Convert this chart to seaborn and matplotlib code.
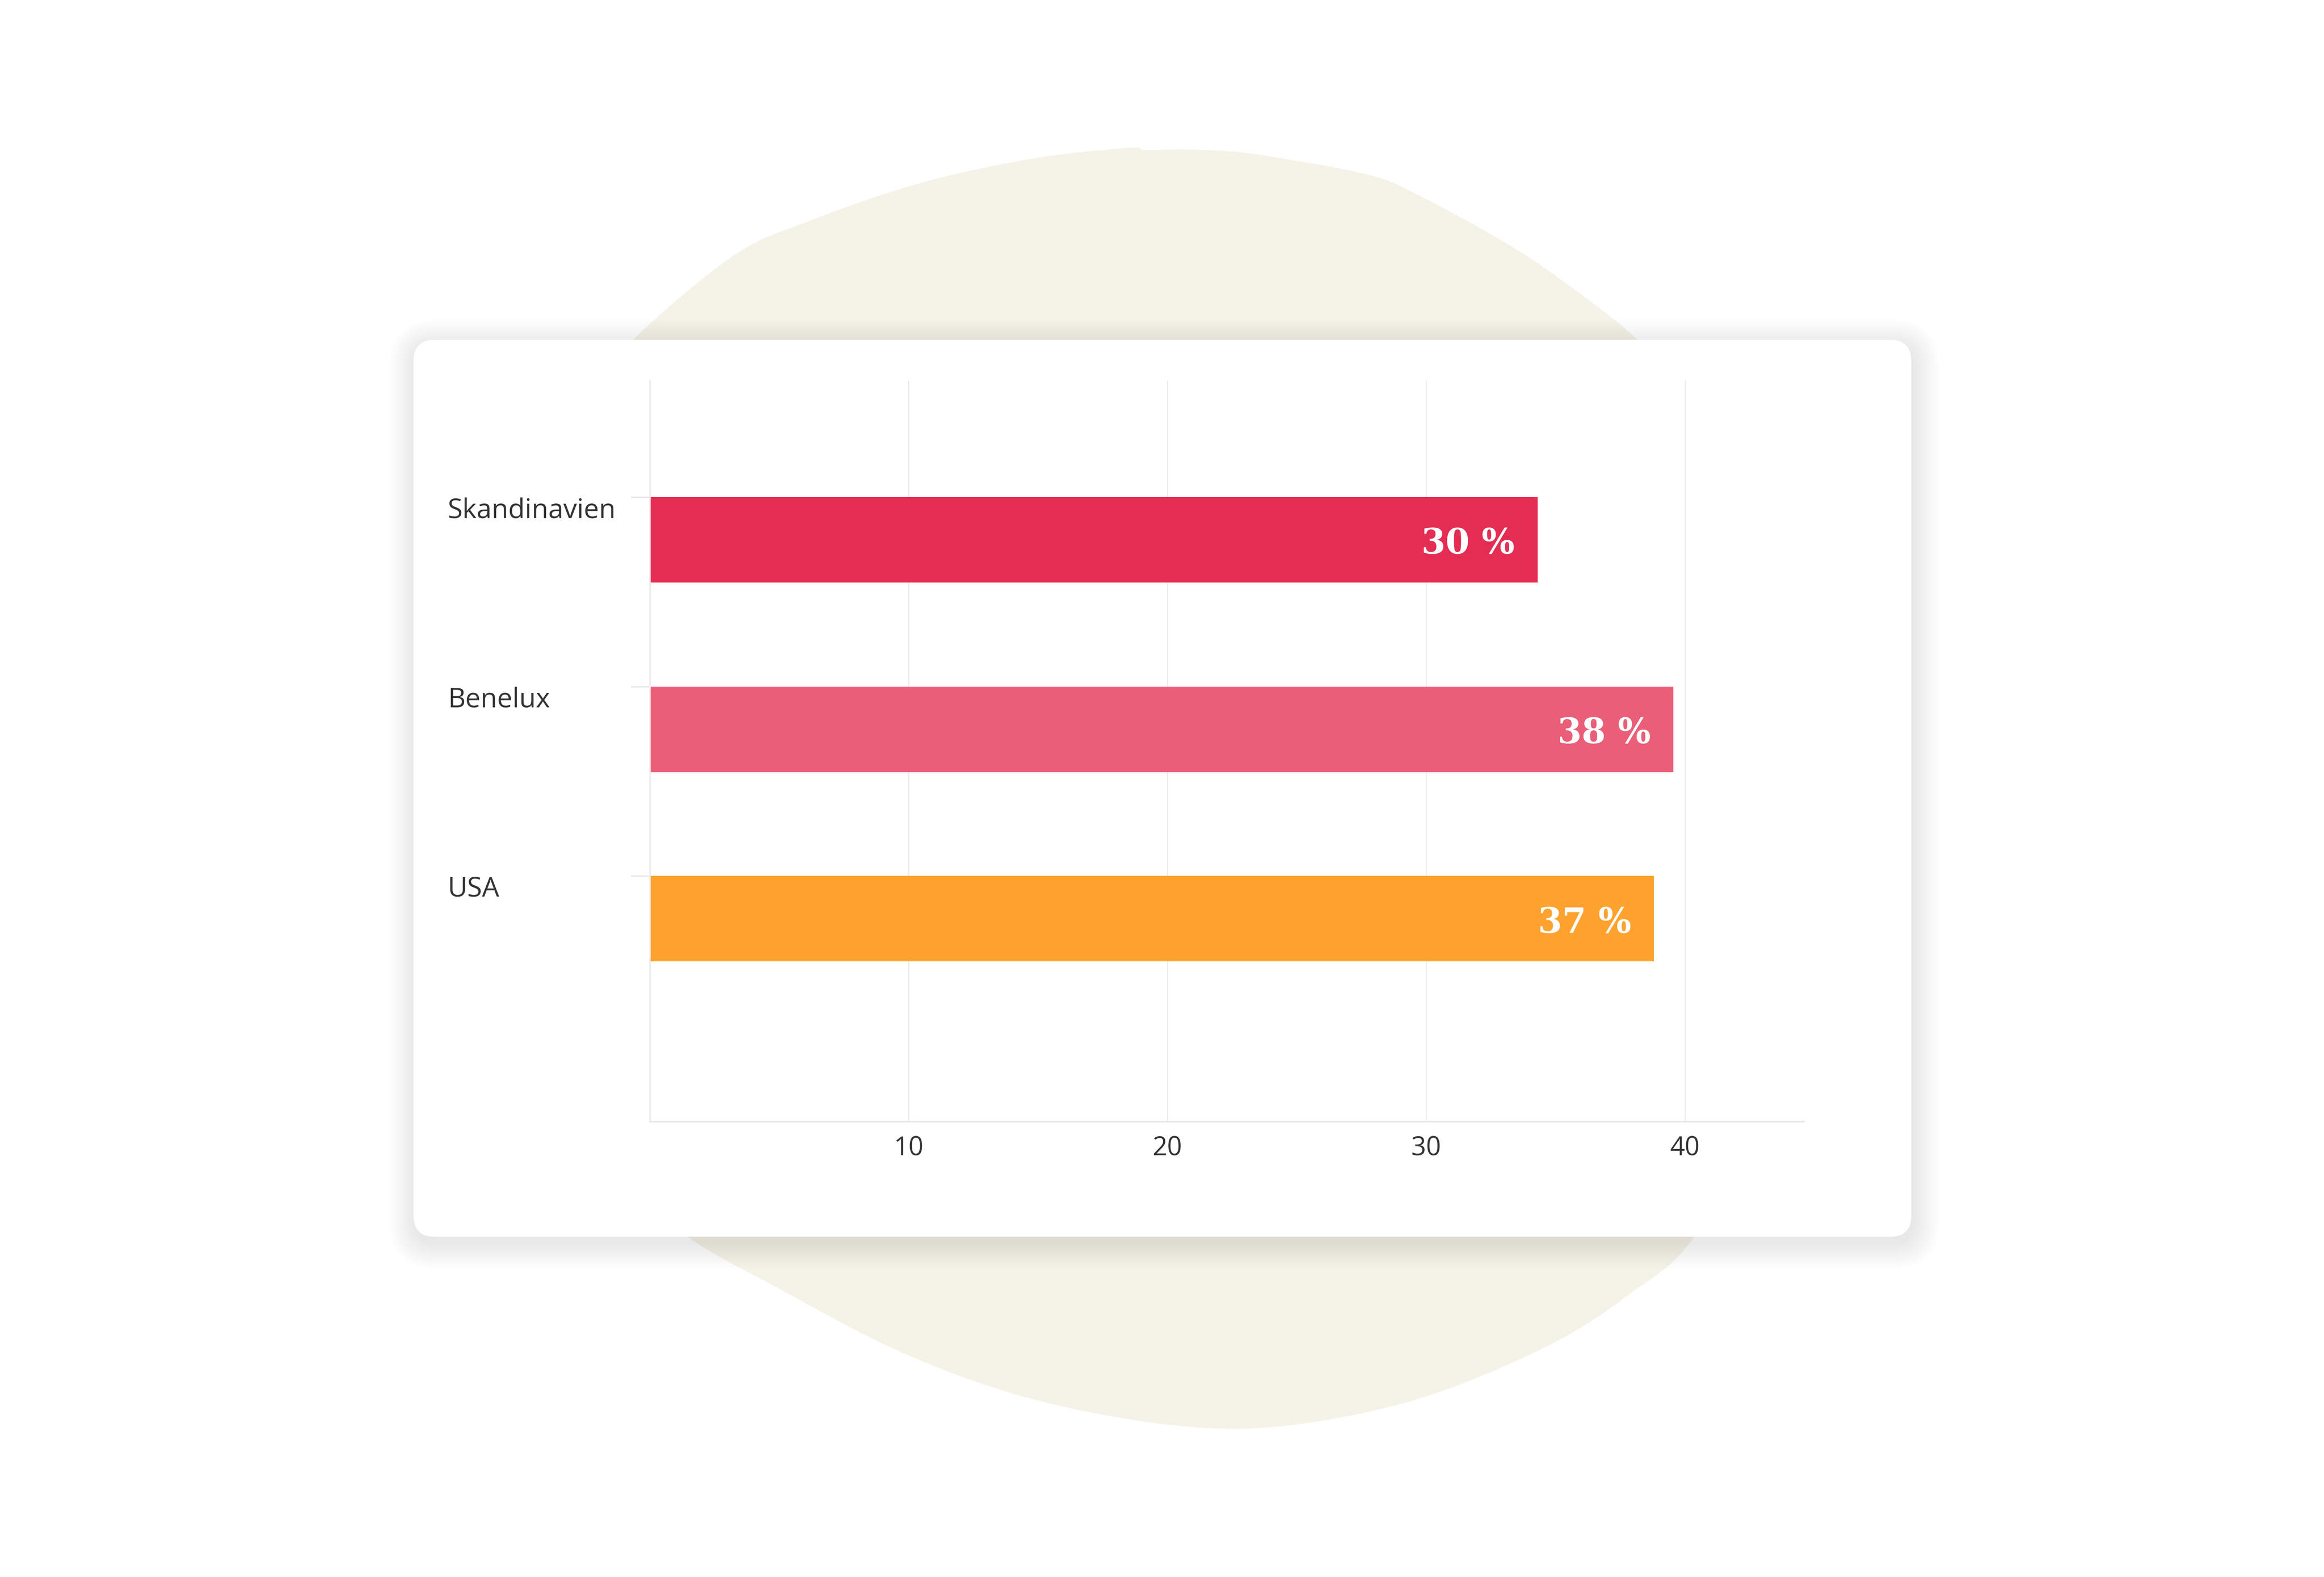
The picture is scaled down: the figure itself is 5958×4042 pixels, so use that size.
import numpy as np
import pandas as pd
import matplotlib
matplotlib.use("Agg")
import matplotlib.pyplot as plt
from matplotlib.patches import FancyBboxPatch, Polygon
import seaborn as sns

# chart data
regions = ["Skandinavien", "Benelux", "USA"]
bar_lengths = [34.3, 39.55, 38.8]
value_labels = ["30 %", "38 %", "37 %"]
bar_colors = ["#E52C52", "#EB5E78", "#FEA22E"]
x_ticks = [10, 20, 30, 40]

W, H = 5958, 4042
sns.set_theme(style="white")
plt.rcParams["font.family"] = ["Open Sans", "DejaVu Sans"]

fig = plt.figure(figsize=(W / 100, H / 100), dpi=100)
fig.patch.set_facecolor("white")

# background layer, in pixel units
bg = fig.add_axes([0, 0, 1, 1])
bg.set_xlim(0, W)
bg.set_ylim(H, 0)
bg.axis("off")


def smooth_closed(pts, n=40):
    # closed catmull-rom curve through the outline points
    pts = np.asarray(pts, float)
    m = len(pts)
    t = np.linspace(0, 1, n, endpoint=False)[:, None]
    out = []
    for i in range(m):
        p0, p1, p2, p3 = pts[i - 1], pts[i], pts[(i + 1) % m], pts[(i + 2) % m]
        out.append(0.5 * (2 * p1 + (-p0 + p2) * t
                          + (2 * p0 - 5 * p1 + 4 * p2 - p3) * t ** 2
                          + (-p0 + 3 * p1 - 3 * p2 + p3) * t ** 3))
    return np.vstack(out)


# decorative beige blob behind the card
blob_outline = [
    (1420, 1350), (1500, 1030), (1624, 870), (1878, 657), (2070, 568), (2357, 470),
    (2644, 407), (2892, 379), (2935, 384), (3030, 383), (3122, 386), (3237, 398),
    (3504, 447), (3638, 501), (3887, 639), (4078, 773), (4197, 870), (4310, 990),
    (4440, 1250), (4540, 1750), (4560, 2300), (4490, 2850), (4343, 3170),
    (4169, 3323), (3971, 3448), (3675, 3573), (3398, 3640), (3151, 3662),
    (2884, 3636), (2587, 3569), (2291, 3457), (1994, 3301), (1763, 3170),
    (1590, 3010), (1470, 2700), (1405, 2200), (1400, 1750),
]
bg.add_patch(Polygon(smooth_closed(blob_outline), closed=True,
                     facecolor="#F5F3E8", edgecolor="none", zorder=1))

# card with soft shadow
cx, cy, cw, ch = 1060, 871, 3840, 2299
radius = 55
blur = 110
step = 3
for p in np.arange(blur, 0, -step):
    a = 0.095 * ((1 - (p - step) / blur) ** 2 - (1 - p / blur) ** 2)
    bg.add_patch(FancyBboxPatch((cx + 5, cy + 15), cw, ch,
                                boxstyle=f"round,pad={p},rounding_size={radius + p}",
                                facecolor="black", alpha=a, edgecolor="none", zorder=2))
bg.add_patch(FancyBboxPatch((cx, cy), cw, ch,
                            boxstyle=f"round,pad=0,rounding_size={radius}",
                            facecolor="white", edgecolor="none", zorder=3))

# bar chart
ax = fig.add_axes([1666 / W, 1 - 2875 / H, (4625 - 1666) / W, (2875 - 975) / H])
ax.patch.set_alpha(0)

df = pd.DataFrame({"region": regions, "share": bar_lengths})
bar_w = 0.451
sns.barplot(data=df, x="share", y="region", hue="region", palette=bar_colors,
            orient="h", width=bar_w, saturation=1, linewidth=0, legend=False, ax=ax)

ax.set_xlim(0, 44.6)
ax.set_ylim(3.071, -0.842)
ax.set_xticks(x_ticks)
ax.set_xticklabels([str(t) for t in x_ticks])
ax.set_yticks([i - bar_w / 2 for i in range(len(regions))])
ax.set_yticklabels(regions)
ax.set_xlabel("")
ax.set_ylabel("")

ax.grid(axis="x", color="#ebebeb", linewidth=2)
ax.grid(axis="y", visible=False)
ax.set_axisbelow(True)
ax.spines["top"].set_visible(False)
ax.spines["right"].set_visible(False)
ax.spines["left"].set_color("#e8e8e8")
ax.spines["left"].set_linewidth(2.5)
ax.spines["bottom"].set_color("#e8e8e8")
ax.spines["bottom"].set_linewidth(2.8)

ax.tick_params(axis="x", length=0, pad=25, labelsize=48, labelcolor="#333333")
ax.tick_params(axis="y", length=35, width=2.5, color="#e8e8e8", direction="out",
               pad=338, labelsize=50, labelcolor="#333333", left=True)
for lab in ax.get_yticklabels():
    lab.set_ha("left")
    lab.set_va("top")

# value labels inside the bar ends
for i, (v, txt) in enumerate(zip(bar_lengths, value_labels)):
    ax.annotate(txt, xy=(v, i), xytext=(-42, -8), textcoords="offset points",
                ha="right", va="center", color="white", fontsize=64,
                fontweight="bold", family=["DejaVu Serif"])

fig.savefig("out.png", dpi=100)
